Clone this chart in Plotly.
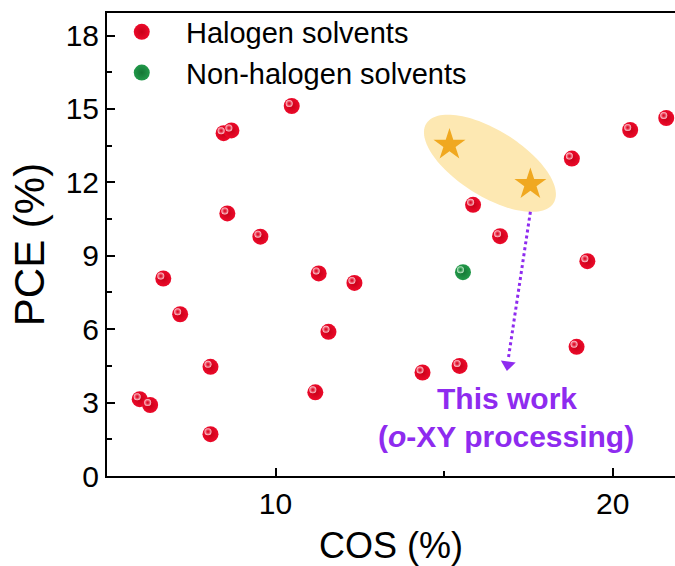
import numpy as np
import plotly.graph_objects as go

# ---------------- data ----------------
halogen_cos = [10.48, 8.46, 8.69, 8.57, 9.55, 6.67, 11.28, 7.17, 11.57, 8.07, 5.97, 6.28,
               8.07, 11.18, 12.34, 15.86, 16.66, 18.79, 20.52, 21.59, 19.25, 18.93, 14.36, 15.46]
halogen_pce = [15.12, 14.01, 14.12, 10.73, 9.78, 8.07, 8.28, 6.61, 5.89, 4.46, 3.14, 2.90,
               1.71, 3.42, 7.89, 11.08, 9.80, 12.97, 14.14, 14.63, 8.78, 5.28, 4.23, 4.50]
nonhalogen_cos = [15.56]
nonhalogen_pce = [8.33]
thiswork_cos = [15.16, 17.56]
thiswork_pce = [13.53, 11.92]

x_ticks = [10, 20]
y_ticks = [0, 3, 6, 9, 12, 15, 18]

# ---------------- layout constants ----------------
W, H = 675, 566
ML, MR, MT, MB = 107, 0, 13, 90
XR = [5.0, 21.85]
YR = [0.0, 18.92]
px_x = (W - ML - MR) / (XR[1] - XR[0])
px_y = (H - MT - MB) / (YR[1] - YR[0])
HL = 2.5  # highlight offset (px) up-left for the sphere shading
XR2 = [XR[0] + HL / px_x, XR[1] + HL / px_x]
YR2 = [YR[0] - HL / px_y, YR[1] - HL / px_y]

FONT = "Liberation Sans, Arial, sans-serif"
RED = "#EC0A2A"
RED_EDGE = "#C80018"
GREEN = "#22994A"
GREEN_EDGE = "#137634"
STAR = "#F0A820"
PURPLE = "#8E2BEF"

fig = go.Figure()

# highlight ellipse (defined in pixel-like units, converted to data units)
cx, cy = 16.36, 12.78
a_px, b_px, theta = 75, 33, np.deg2rad(32)
t = np.linspace(0, 2 * np.pi, 120)
dx = a_px * np.cos(t) * np.cos(theta) - b_px * np.sin(t) * np.sin(theta)
dy = a_px * np.cos(t) * np.sin(theta) + b_px * np.sin(t) * np.cos(theta)
ex = cx + dx / px_x
ey = cy - dy / px_y
path = "M " + " L ".join(f"{x:.4f},{y:.4f}" for x, y in zip(ex, ey)) + " Z"
fig.add_shape(type="path", path=path, xref="x", yref="y",
              fillcolor="#FDE8B2", line=dict(width=0), layer="below")

# dotted arrow
start = (17.56, 10.80)
tip = (16.88, 4.30)
fig.add_shape(type="line", x0=start[0], y0=start[1], x1=tip[0] + 0.02, y1=tip[1] + 0.45,
              xref="x", yref="y", line=dict(color=PURPLE, width=3, dash="dot"))
fig.add_trace(go.Scatter(x=[tip[0] + 0.01], y=[tip[1] + 0.25], mode="markers", showlegend=False,
                         hoverinfo="skip",
                         marker=dict(symbol="triangle-down", size=13, angle=8, color=PURPLE,
                                     line=dict(width=0))))

fig.add_trace(go.Scatter(
    x=halogen_cos, y=halogen_pce, mode="markers",
    name="\u00a0\u00a0\u00a0Halogen solvents",
    marker=dict(size=16, color=RED,
                gradient=dict(type="radial", color=RED_EDGE),
                line=dict(width=0))))
fig.add_trace(go.Scatter(
    x=nonhalogen_cos, y=nonhalogen_pce, mode="markers",
    name="\u00a0\u00a0\u00a0Non-halogen solvents",
    marker=dict(size=16, color=GREEN,
                gradient=dict(type="radial", color=GREEN_EDGE),
                line=dict(width=0))))
# specular highlights (same data, drawn on an overlay axis shifted a few pixels)
fig.add_trace(go.Scatter(
    x=halogen_cos, y=halogen_pce, mode="markers", showlegend=False, hoverinfo="skip",
    xaxis="x2", yaxis="y2",
    marker=dict(size=7, color="rgba(255,225,230,0.95)",
                gradient=dict(type="radial", color="rgba(250,80,100,0)"),
                line=dict(width=0))))
fig.add_trace(go.Scatter(
    x=nonhalogen_cos, y=nonhalogen_pce, mode="markers", showlegend=False, hoverinfo="skip",
    xaxis="x2", yaxis="y2",
    marker=dict(size=7, color="rgba(215,245,220,0.95)",
                gradient=dict(type="radial", color="rgba(60,170,90,0)"),
                line=dict(width=0))))
fig.add_trace(go.Scatter(
    x=thiswork_cos, y=thiswork_pce, mode="markers", showlegend=False,
    marker=dict(symbol="star", size=24, color=STAR, line=dict(width=0))))

fig.add_annotation(x=16.88, y=3.17, xref="x", yref="y", text="<b>This work</b>",
                   showarrow=False, font=dict(family=FONT, size=30, color=PURPLE))
fig.add_annotation(x=16.83, y=1.60, xref="x", yref="y",
                   text="<b>(<i>o</i>-XY processing)</b>",
                   showarrow=False, font=dict(family=FONT, size=30, color=PURPLE))

fig.update_layout(
    width=W, height=H,
    margin=dict(l=ML, r=MR, t=MT, b=MB),
    paper_bgcolor="white", plot_bgcolor="white",
    font=dict(family=FONT, color="black"),
    showlegend=True,
    legend=dict(x=0.026, y=1.014, xanchor="left", yanchor="top",
                font=dict(family=FONT, size=29, color="black"),
                bgcolor="rgba(0,0,0,0)", borderwidth=0,
                tracegroupgap=0, itemsizing="trace"),
    xaxis=dict(range=XR, tickvals=x_ticks, ticktext=[str(v) for v in x_ticks],
               showgrid=False, zeroline=False, showline=True, linecolor="black",
               linewidth=2, mirror=True, ticks="inside", ticklen=8, tickwidth=2,
               tickcolor="black", tickfont=dict(family=FONT, size=30),
               minor=dict(tickvals=[15], ticks="inside", ticklen=5, tickwidth=2, tickcolor="black"),
               title=dict(text="COS (%)", font=dict(family=FONT, size=36), standoff=14)),
    yaxis=dict(range=YR, tickvals=y_ticks, ticktext=[str(v) for v in y_ticks],
               showgrid=False, zeroline=False, showline=True, linecolor="black",
               linewidth=2, mirror=False, ticks="inside", ticklen=8, tickwidth=2,
               tickcolor="black", tickfont=dict(family=FONT, size=30),
               minor=dict(tickvals=[1.5, 4.5, 7.5, 10.5, 13.5, 16.5], ticks="inside",
                          ticklen=5, tickwidth=2, tickcolor="black"),
               title=dict(text="PCE (%)", font=dict(family=FONT, size=42), standoff=8)),
    xaxis2=dict(range=XR2, overlaying="x", visible=False, showgrid=False, zeroline=False),
    yaxis2=dict(range=YR2, overlaying="y", visible=False, showgrid=False, zeroline=False),
)

fig.write_html("out.html")
